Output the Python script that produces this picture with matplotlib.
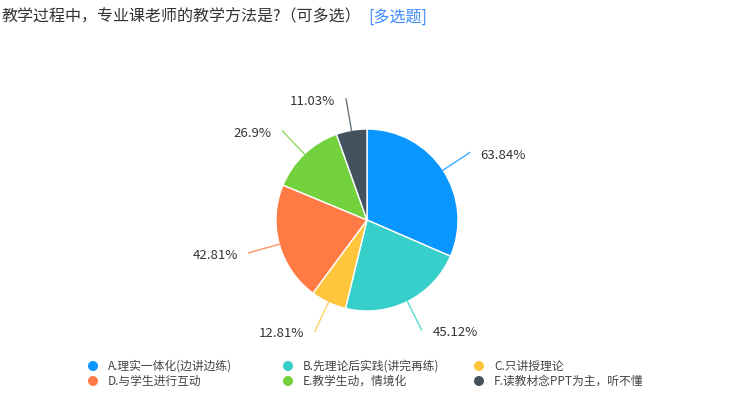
import matplotlib.pyplot as plt
import numpy as np

plt.rcParams['font.family'] = ['Noto Sans CJK SC', 'DejaVu Sans']

# данные
legend_labels = ['A.理实一体化(边讲边练)', 'B.先理论后实践(讲完再练)', 'C.只讲授理论',
                 'D.与学生进行互动', 'E.教学生动，情境化', 'F.读教材念PPT为主，听不懂']
values = [63.84, 45.12, 12.81, 42.81, 26.9, 11.03]
pct_labels = ['63.84%', '45.12%', '12.81%', '42.81%', '26.9%', '11.03%']
colors = ['#0A96FF', '#36CFC9', '#FFC53D', '#FF7A45', '#73D13D', '#42535F']

W, H = 729, 411
fig = plt.figure(figsize=(W / 100, H / 100), dpi=100)

# пирог
R = 91
cx, cy = 367, 220
half = 2.2
ax = fig.add_axes([(cx - half * R) / W, (H - cy - half * R) / H,
                   2 * half * R / W, 2 * half * R / H])
wedges, _ = ax.pie(values, colors=colors, startangle=90, counterclock=False,
                   radius=1, wedgeprops=dict(edgecolor='white', linewidth=1))
ax.set_xlim(-half, half)
ax.set_ylim(-half, half)
ax.axis('off')

for w, txt, c in zip(wedges, pct_labels, colors):
    ang = np.deg2rad((w.theta1 + w.theta2) / 2)
    x, y = np.cos(ang), np.sin(ang)
    ex, ey = 1.35 * x, 1.35 * y
    side = 1 if x >= 0 else -1
    ax.plot([x, ex], [y, ey], color=c, lw=1, alpha=0.8)
    ax.text(ex + side * 0.12, ey - 0.03, txt, ha='left' if side > 0 else 'right',
            va='center', fontsize=9.5, color='#333333')

# легенда
lax = fig.add_axes([0, 0, 1, 1])
lax.set_xlim(0, W)
lax.set_ylim(H, 0)
lax.axis('off')
col_x = [93, 288, 479]
row_y = [366, 381]
for i, (lab, c) in enumerate(zip(legend_labels, colors)):
    mx = col_x[i % 3]
    my = row_y[i // 3]
    lax.scatter([mx], [my], s=52, color=c, edgecolors='none')
    lax.text(mx + 15, my, lab, ha='left', va='center', fontsize=8.5, color='#444444')

# заголовок
fig.text(1 / W, 1 - 17 / H, '教学过程中，专业课老师的教学方法是?（可多选）',
         ha='left', va='center', fontsize=11.5, color='#333333')
fig.text(368 / W, 1 - 17 / H, '[多选题]', ha='left', va='center',
         fontsize=11.5, color='#3D8BFF')

fig.savefig('out.png', dpi=100)
